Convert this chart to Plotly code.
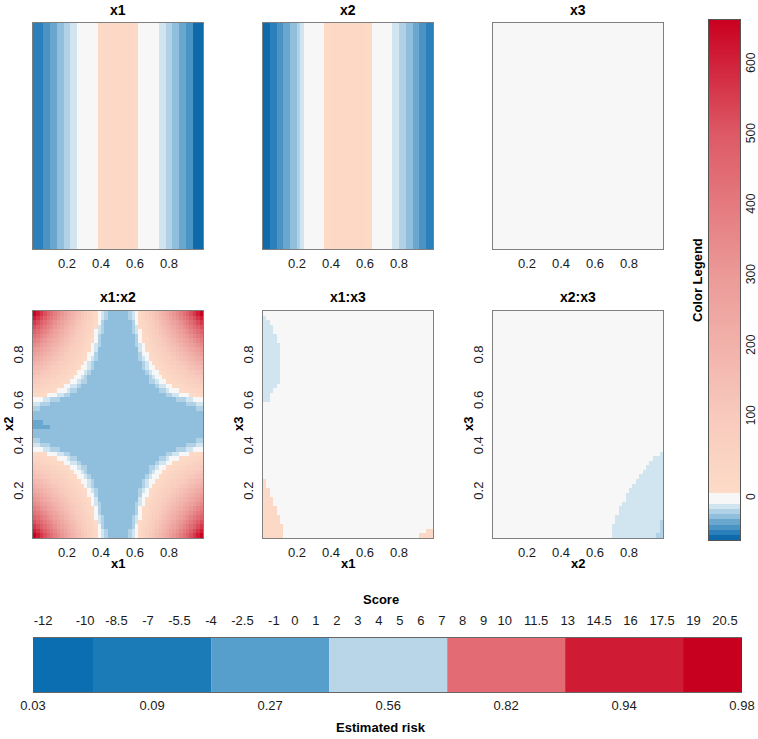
import numpy as np
import plotly.graph_objects as go

W, H = 758, 739
FONT = "Liberation Sans, Arial, sans-serif"

# ---------------- data ----------------
# main effect x1 (50 grid cells along x1)
x1_profile = [-48, -46, -44, -41, -37, -34, -30, -27, -23, -19, -15, -12, -8,
              -5, -3, -1, 1, 3, 5,
              12, 15, 18, 20, 22, 23, 23, 22, 20, 18, 15, 12,
              5, 3, 1, -1, -3, -5,
              -8, -12, -15, -19, -23, -27, -30, -34, -37, -41, -51, -53, -55]
# main effect x2
x2_profile = [-54, -51, -47, -44, -40, -37, -33, -29, -26, -22, -17, -10,
              -5, -3, -1, 1, 3, 5,
              12, 15, 18, 21, 23, 24, 25, 25, 24, 23, 21, 18, 15, 12,
              5, 3, 1, -1, -3, -5,
              -8, -12, -15, -19, -23, -26, -29, -33, -37, -40, -44, -47]
# main effect x3 (flat)
x3_profile = [0, 0, 0, 0, 0, 0, 0, 0, 0, 0, 0, 0, 0, 0, 0, 0, 0, 0, 0, 0, 0, 0, 0, 0, 0,
              0, 0, 0, 0, 0, 0, 0, 0, 0, 0, 0, 0, 0, 0, 0, 0, 0, 0, 0, 0, 0, 0, 0, 0, 0]

# x1:x2 interaction: profile along the panel edge (outer cell -> centre, before clipping)
x1x2_edge_half = [660, 612, 564, 519, 475, 432, 391, 351, 313, 277, 242, 209, 177,
                  147, 119, 93, 68, 46, 25, 2, -10, -17, -28, -40, -45]
x1x2_offset = 49          # level of the separable part at the centre lines
x1x2_floor = -24          # lowest level shown in the panel
# darker patch at the left of the centre row: (row, first col, last col, value)
x1x2_patch = [(25, 0, 2, -31), (24, 0, 4, -31)]

# x1:x3 interaction: near-zero background with small regions
x1x3_background = 0
x1x3_blue_rows = [30, 31, 32, 33, 34, 35, 36, 37, 38, 39, 40, 41, 42, 43, 44, 45, 46, 47, 48]
x1x3_blue_width = [2, 2, 3, 4, 5, 5, 5, 5, 5, 5, 5, 5, 5, 4, 4, 3, 3, 2, 1]
x1x3_blue_value = -9
x1x3_peach_rows = [0, 1, 2, 3, 4, 5, 6, 7, 8, 9, 10, 11, 12]
x1x3_peach_width = [6, 6, 6, 5, 5, 4, 4, 3, 3, 2, 2, 1, 1]
x1x3_peach_right_rows = [0, 1]
x1x3_peach_right_start = [46, 48]
x1x3_peach_value = 20

# x2:x3 interaction
x2x3_background = 0
x2x3_blue_rows = [0, 1, 2, 3, 4, 5, 6, 7, 8, 9, 10, 11, 12, 13, 14, 15, 16, 17, 18]
x2x3_blue_start = [35, 35, 35, 36, 36, 37, 37, 38, 39, 39, 40, 41, 42, 43, 44, 45, 46, 47, 49]
x2x3_blue_value = -9
x2x3_dark_cells = [(0, 48), (0, 49), (1, 49), (2, 49), (3, 49)]
x2x3_dark_value = -17

# colour legend: value -> position along the bar (bar length units)
cb_anchor_values = [-57, -6, 6, 100, 663]
cb_anchor_heights = [0, 36, 47, 123, 520]
cb_tick_values = [0, 100, 200, 300, 400, 500, 600]

# score / risk legend
score_edges = [-12.48, -9.62, -3.99, 1.63, 7.26, 12.88, 18.5, 21.31]
score_colors = ['#0a6eb0', '#1b7bb7', '#569ecb', '#b9d6e8', '#e36b74', '#d01b34', '#c8001f']
score_ticks = [-12, -10, -8.5, -7, -5.5, -4, -2.5, -1, 0, 1, 2, 3, 4, 5, 6, 7, 8, 9, 10,
               11.5, 13, 14.5, 16, 17.5, 19, 20.5]
risk_positions = [-12.48, -6.8, -1.18, 4.45, 10.07, 15.69, 21.31]
risk_labels = ['0.03', '0.09', '0.27', '0.56', '0.82', '0.94', '0.98']

axis_ticks = [0.2, 0.4, 0.6, 0.8]

# ---------------- build tables ----------------
def to_bar(v):
    return np.interp(np.asarray(v, dtype=float), cb_anchor_values, cb_anchor_heights)

edge = x1x2_edge_half + x1x2_edge_half[::-1]
off = x1x2_offset
corner = edge[0] + off
z12 = np.array([[(edge[c] + off) * (edge[r] + off) / corner - off for c in range(50)]
                for r in range(50)])
z12 = np.maximum(z12, x1x2_floor)
for r, c0, c1, v in x1x2_patch:
    z12[r, c0:c1 + 1] = v

z13 = np.full((50, 50), float(x1x3_background))
for r, w in zip(x1x3_blue_rows, x1x3_blue_width):
    z13[r, :w] = x1x3_blue_value
for r, w in zip(x1x3_peach_rows, x1x3_peach_width):
    z13[r, :w] = x1x3_peach_value
for r, s in zip(x1x3_peach_right_rows, x1x3_peach_right_start):
    z13[r, s:] = x1x3_peach_value

z23 = np.full((50, 50), float(x2x3_background))
for r, s in zip(x2x3_blue_rows, x2x3_blue_start):
    z23[r, s:] = x2x3_blue_value
for r, c in x2x3_dark_cells:
    z23[r, c] = x2x3_dark_value

# colour scale in bar units (0..520)
L = 520.0
blues = ['#0f6aab', '#2b80bb', '#4a94c4', '#6aa7cf', '#8fbfdc', '#b0d1e6', '#d1e5f0']
cs = []
step = 36.0 / len(blues)
for i, col in enumerate(blues):
    cs.append([i * step / L, col])
    cs.append([(i + 1) * step / L, col])
cs.append([36 / L, '#f7f7f7'])
cs.append([47 / L, '#f7f7f7'])
cs.append([47.01 / L, '#fddbc7'])
cs.append([123 / L, '#f8cabd'])
cs.append([264 / L, '#eb9a98'])
cs.append([405 / L, '#dd5a66'])
cs.append([1.0, '#ca0020'])

# legend column (one cell per bar unit)
legend_column = [[h + 0.5] for h in range(int(L))]

# ---------------- figure ----------------
fig = go.Figure()

def hm(z, ax, one_d=False):
    if one_d:
        fig.add_trace(go.Heatmap(z=[to_bar(z).tolist()], x0=0.01, dx=0.02, y0=0.5, dy=1,
                                 coloraxis='coloraxis', xaxis='x' + ax, yaxis='y' + ax,
                                 hoverinfo='skip'))
    else:
        fig.add_trace(go.Heatmap(z=to_bar(z).tolist(), x0=0.01, dx=0.02, y0=0.01, dy=0.02,
                                 coloraxis='coloraxis', xaxis='x' + ax, yaxis='y' + ax,
                                 hoverinfo='skip'))

hm(x1_profile, '', True)
hm(x2_profile, '2', True)
hm(x3_profile, '3', True)
hm(z12, '4')
hm(z13, '5')
hm(z23, '6')

# colour legend as its own heatmap
fig.add_trace(go.Heatmap(z=legend_column, x0=0, dx=1, y0=0.5, dy=1,
                         coloraxis='coloraxis', xaxis='x9', yaxis='y9', hoverinfo='skip'))

starts = score_edges[:-1]
widths = [b - a for a, b in zip(score_edges[:-1], score_edges[1:])]
fig.add_trace(go.Bar(y=[0] * len(widths), x=widths, base=starts, orientation='h', width=1,
                     marker=dict(color=score_colors, line=dict(width=0)),
                     xaxis='x7', yaxis='y7', showlegend=False, hoverinfo='skip'))
fig.add_trace(go.Scatter(x=risk_positions, y=[0] * len(risk_positions), mode='markers',
                         marker=dict(opacity=0), xaxis='x8', yaxis='y7',
                         showlegend=False, hoverinfo='skip'))

cols = [(33, 203), (263, 433), (493, 663)]
rows = [(23, 249), (311, 538)]

def xd(a, b):
    return [a / W, b / W]

def yd(a, b):
    return [1 - b / H, 1 - a / H]

tickfont = dict(family=FONT, size=13, color='#1a1a1a')
layout = dict(width=W, height=H, margin=dict(l=0, r=0, t=0, b=0, autoexpand=False),
              paper_bgcolor='white', plot_bgcolor='white', showlegend=False,
              barmode='overlay', font=dict(family=FONT))

names = ['', '2', '3', '4', '5', '6']
for k, n in enumerate(names):
    r = rows[k // 3]
    c = cols[k % 3]
    common = dict(showgrid=False, zeroline=False, showline=True, mirror=True,
                  linecolor='#7f7f7f', linewidth=1, ticks='', tickfont=tickfont,
                  tickvals=axis_ticks, ticktext=[str(t) for t in axis_ticks],
                  automargin=False)
    layout['xaxis' + n] = dict(domain=xd(*c), range=[0, 1], anchor='y' + n,
                               ticklabelstandoff=2, **common)
    ya = dict(domain=yd(*r), range=[0, 1], anchor='x' + n, **common)
    if k < 3:
        ya['showticklabels'] = False
    else:
        ya['tickangle'] = -90
        ya['ticklabelstandoff'] = 4
    layout['yaxis' + n] = ya

layout['xaxis7'] = dict(domain=xd(33, 742), range=[score_edges[0], score_edges[-1]],
                        anchor='y7', side='top', showgrid=False, zeroline=False,
                        showline=True, mirror=True, linecolor='#666666', linewidth=1,
                        ticks='', tickvals=score_ticks, automargin=False,
                        ticktext=[('%g' % t) for t in score_ticks], tickfont=tickfont,
                        ticklabelstandoff=7)
layout['xaxis8'] = dict(range=[score_edges[0], score_edges[-1]], overlaying='x7',
                        anchor='y7', side='bottom', showgrid=False, zeroline=False,
                        showline=False, ticks='', tickvals=risk_positions, automargin=False,
                        ticktext=risk_labels, tickfont=tickfont, ticklabelstandoff=4)
layout['yaxis7'] = dict(domain=yd(638, 692), range=[-0.5, 0.5], anchor='x7',
                        showgrid=False, zeroline=False, showticklabels=False,
                        showline=False, ticks='', automargin=False)

layout['xaxis9'] = dict(domain=xd(709, 740), range=[-0.5, 0.5], anchor='y9',
                        showgrid=False, zeroline=False, showticklabels=False, ticks='',
                        showline=True, mirror=True, linecolor='#555555', linewidth=1,
                        automargin=False)
layout['yaxis9'] = dict(domain=yd(20, 540), range=[0, L], anchor='x9', side='right',
                        showgrid=False, zeroline=False, ticks='',
                        tickvals=to_bar(cb_tick_values).tolist(),
                        ticktext=[str(v) for v in cb_tick_values],
                        tickangle=-90, tickfont=dict(family=FONT, size=12, color='#1a1a1a'),
                        ticklabelstandoff=0,
                        showline=True, mirror=True, linecolor='#555555', linewidth=1,
                        automargin=False)

layout['coloraxis'] = dict(colorscale=cs, cmin=0, cmax=L, showscale=False)

fig.update_layout(**layout)

def ann(text, x, y, size=13, angle=0, bold=True):
    fig.add_annotation(text=('<b>%s</b>' % text) if bold else text,
                       x=x / W, y=1 - y / H, xref='paper', yref='paper',
                       showarrow=False, textangle=angle, xanchor='center', yanchor='middle',
                       font=dict(family=FONT, size=size, color='#000000'))

for t, (a, b) in zip(['x1', 'x2', 'x3'], cols):
    ann(t, (a + b) / 2, 10, 14)
for t, (a, b) in zip(['x1:x2', 'x1:x3', 'x2:x3'], cols):
    ann(t, (a + b) / 2, 297, 14)
for t, (a, b) in zip(['x1', 'x1', 'x2'], cols):
    ann(t, (a + b) / 2, 563)
for t, (a, b) in zip(['x2', 'x3', 'x3'], cols):
    ann(t, a - 24, 424, angle=-90)
ann('Color Legend', 697, 280, angle=-90)
ann('Score', 381, 599)
ann('Estimated risk', 381, 727)

fig.write_html('out.html', config={'displayModeBar': False},
               post_script="document.body.style.margin='0';document.body.style.padding='0';"
                           "document.body.style.overflow='hidden';")
